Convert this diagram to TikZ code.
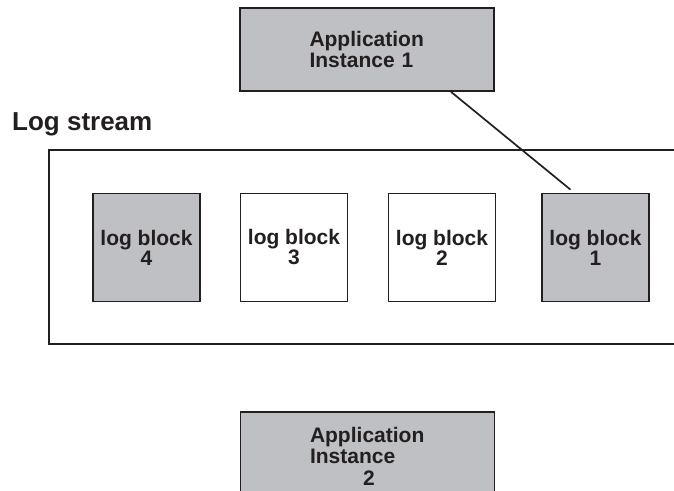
\documentclass[tikz,border=0pt]{standalone}
\usepackage{fontspec}
\setmainfont{Liberation Sans}
\usepackage{xcolor}
\usepackage{tikz}
\usetikzlibrary{positioning}

\definecolor{boxgray}{RGB}{191,192,196}
\definecolor{inkblack}{RGB}{35,31,32}

\begin{document}
\begin{tikzpicture}[
    x=1pt, y=-1pt,
    appbox/.style={rectangle, draw=inkblack, line width=1.7pt, fill=boxgray, minimum width=254pt, align=left, text width=115pt, inner sep=0pt, font=\fontsize{21}{21.5}\selectfont\bfseries, text=inkblack},
    blockbox/.style={rectangle, draw=inkblack, line width=1.7pt, fill=#1, minimum width=107pt, minimum height=108pt, align=center, inner sep=0pt, font=\fontsize{21}{20}\selectfont\bfseries, text=inkblack},
    link/.style={draw=inkblack, line width=1.7pt},
]
\useasboundingbox (0,0) rectangle (674,490);

% application instances
\node[appbox, minimum height=83pt] (app1) at (367,49.5) {Application\\Instance 1};
\node[appbox, minimum height=88pt] (app2) at (367.5,456) {Application\\Instance\\\hspace*{53pt}2};

% log stream
\node[anchor=base west, inner sep=0pt, font=\fontsize{26}{26}\selectfont\bfseries, text=inkblack] (title) at (12,130) {Log stream};
\coordinate (streamtr) at (674,150);
\coordinate (streamtl) at (49,150);
\coordinate (streambl) at (49,344);
\coordinate (streambr) at (674,344);
\draw[link] (streamtr) -- (streamtl) -- (streambl) -- (streambr);

\foreach \n/\x/\f in {4/146.5/boxgray, 3/294/white, 2/442/white, 1/595.5/boxgray} {
    \node[blockbox=\f] (blk\n) at (\x,247.5) {log block\\\n};
}

\coordinate (tip) at ([xshift=-25pt, yshift=3pt]blk1.north);
\draw[link] ([xshift=84pt]app1.south) -- (tip);

\end{tikzpicture}
\end{document}
